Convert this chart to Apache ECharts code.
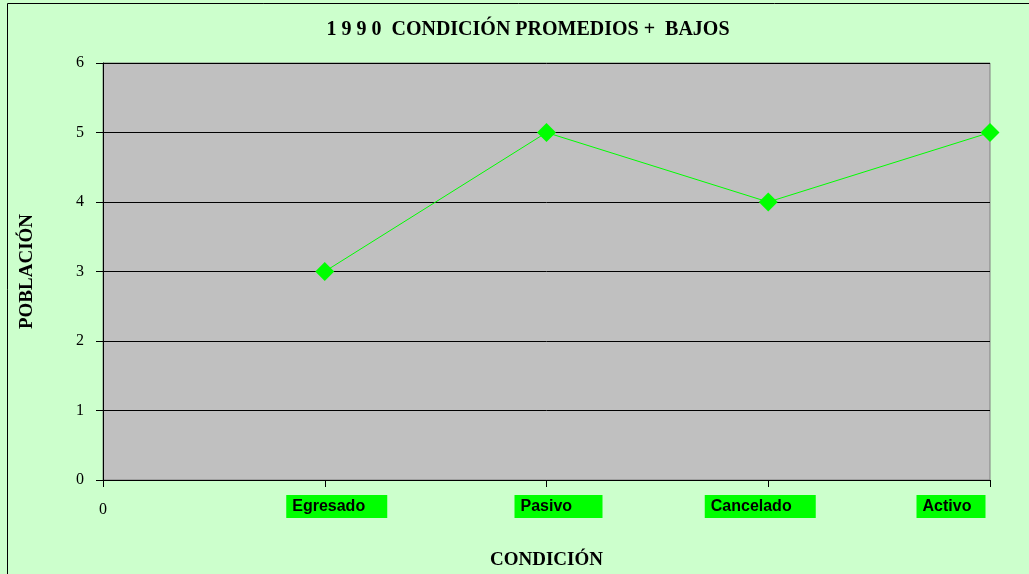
<!DOCTYPE html>
<html>
<head>
<meta charset="utf-8">
<script src="https://cdn.jsdelivr.net/npm/echarts@6/dist/echarts.min.js"></script>
<style>
  html, body { margin: 0; padding: 0; background: #ccffcc; }
  #chart { width: 1029px; height: 574px; }
</style>
</head>
<body>
<div id="chart"></div>
<script>
const categories = ["0", "Egresado", "Pasivo", "Cancelado", "Activo"];
const poblacion = [null, 3, 5, 4, 5];
const yTicks = { min: 0, max: 6, interval: 1 };

// green label boxes: box width and horizontal shift from the tick (as in the original)
const labelBoxes = {
  Egresado: { w: 101, dx: 12 },
  Pasivo: { w: 88, dx: 12 },
  Cancelado: { w: 111, dx: -8 },
  Activo: { w: 69, dx: -39 },
};

const boxFont = "bold 16px 'Liberation Sans'";
const ctx = document.createElement("canvas").getContext("2d");
ctx.font = boxFont;

const rich = {
  plain: { fontFamily: "Liberation Serif", fontSize: 16, color: "#000", padding: [7, 0, 0, 0] },
};
Object.keys(labelBoxes).forEach(function (k) {
  const b = labelBoxes[k];
  const tw = ctx.measureText(k).width;
  rich["b" + k] = {
    fontFamily: "Liberation Sans",
    fontWeight: "bold",
    fontSize: 16,
    color: "#000",
    backgroundColor: "#00ff00",
    padding: [4, Math.max(0, b.w - 6 - tw), 3, 6],
  };
  rich["s" + k] = { width: Math.abs(b.dx) * 2, fontSize: 16 };
});

const chart = echarts.init(document.getElementById("chart"));

const option = {
  backgroundColor: "#ccffcc",
  animation: false,
  graphic: [
    {
      type: "rect",
      shape: { x: 7.5, y: 3.5, width: 1100, height: 700 },
      style: { fill: "none", stroke: "#000", lineWidth: 1 },
      silent: true,
    },
  ],
  title: {
    text: "1 9 9 0  CONDICIÓN PROMEDIOS +  BAJOS",
    left: 523,
    textAlign: "center",
    top: 15,
    textStyle: {
      fontFamily: "Liberation Serif",
      fontWeight: "bold",
      fontSize: 20,
      color: "#000",
    },
  },
  grid: {
    left: 103,
    right: 39,
    top: 63,
    bottom: 94,
    outerBoundsMode: "none",
    show: true,
    backgroundColor: "#c0c0c0",
    borderColor: "#808080",
    borderWidth: 1,
  },
  xAxis: {
    type: "category",
    data: categories,
    boundaryGap: false,
    name: "CONDICIÓN",
    nameLocation: "middle",
    nameGap: 71,
    nameTextStyle: {
      fontFamily: "Liberation Serif",
      fontWeight: "bold",
      fontSize: 19,
      color: "#000",
    },
    axisLine: { lineStyle: { color: "#000", width: 1 } },
    axisTick: { alignWithLabel: true, length: 7, lineStyle: { color: "#000" } },
    axisLabel: {
      margin: 15,
      interval: 0,
      showMaxLabel: true,
      formatter: function (v, i) {
        if (i === 0) return "{plain|" + v + "}";
        const b = labelBoxes[v];
        const sp = "{s" + v + "| }";
        const box = "{b" + v + "|" + v + "}";
        return b.dx > 0 ? sp + box : box + sp;
      },
      rich: rich,
    },
    splitLine: { show: false },
  },
  yAxis: {
    type: "value",
    min: yTicks.min,
    max: yTicks.max,
    interval: yTicks.interval,
    name: "POBLACIÓN",
    nameLocation: "middle",
    nameGap: 66,
    nameTextStyle: {
      fontFamily: "Liberation Serif",
      fontWeight: "bold",
      fontSize: 19,
      color: "#000",
    },
    axisLine: { show: true, lineStyle: { color: "#000", width: 1 } },
    axisTick: { show: true, length: 7, lineStyle: { color: "#000" } },
    axisLabel: {
      margin: 19,
      fontFamily: "Liberation Serif",
      fontSize: 16,
      color: "#000",
    },
    splitLine: { lineStyle: { color: "#000", width: 1 } },
  },
  series: [
    {
      type: "line",
      data: poblacion,
      clip: false,
      connectNulls: false,
      symbol: "diamond",
      symbolSize: 19,
      itemStyle: { color: "#00ff00" },
      lineStyle: { color: "#00ff00", width: 1 },
    },
  ],
};

chart.setOption(option);
</script>
</body>
</html>
